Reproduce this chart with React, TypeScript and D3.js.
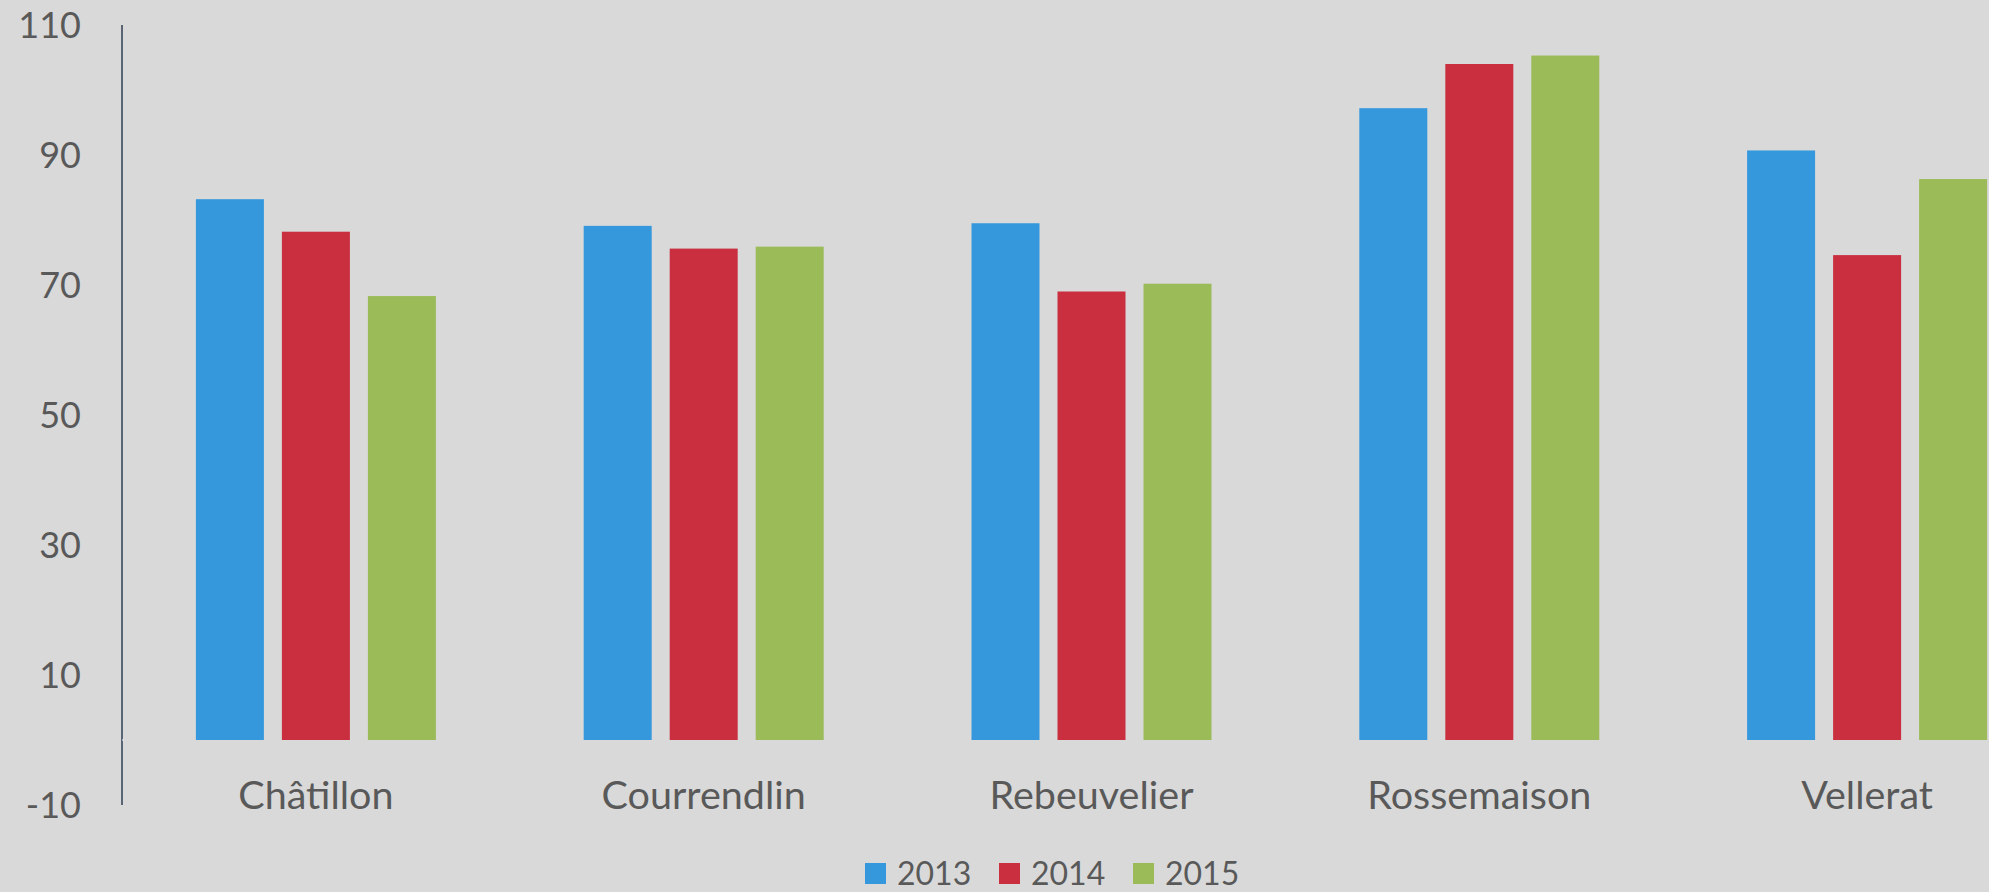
import React from "react";
import * as d3 from "d3";

const categories = ["Châtillon", "Courrendlin", "Rebeuvelier", "Rossemaison", "Vellerat"];
const seriesKeys = ["2013", "2014", "2015"];
const values2013 = [83.2, 79.1, 79.5, 97.2, 90.7];
const values2014 = [78.2, 75.6, 69.0, 104.0, 74.6];
const values2015 = [68.3, 75.9, 70.2, 105.3, 86.3];
const seriesValues = [values2013, values2014, values2015];
const seriesColors = ["#3598DC", "#C92F3F", "#9BBB59"];
const yTicks = [-10, 10, 30, 50, 70, 90, 110];

const W = 1989;
const H = 892;
const FONT = "Lato, 'Open Sans', sans-serif";
const TEXT = "#595959";

export default function App() {
  const axisX = 122;
  const y = d3.scaleLinear().domain([-10, 110]).range([805, 25]);
  const step = 387.8;
  const x0 = d3
    .scaleBand<string>()
    .domain(categories)
    .range([axisX, axisX + step * categories.length])
    .paddingInner(0)
    .paddingOuter(0);
  const groupW = 240;
  const x1 = d3
    .scaleBand<string>()
    .domain(seriesKeys)
    .range([0, groupW])
    .paddingInner(18 / 86)
    .paddingOuter(0);

  const legendX = [865, 999, 1133];

  return (
    <svg
      width={W}
      height={H}
      style={{ position: "absolute", left: 0, top: 0, display: "block" }}
    >
      <rect x={0} y={0} width={W} height={H} fill="#D9D9D9" />
      {categories.map((c, ci) => {
        const center = (x0(c) as number) + x0.bandwidth() / 2;
        const gx = center - groupW / 2;
        return (
          <g key={c}>
            {seriesKeys.map((k, si) => {
              const v = seriesValues[si][ci];
              return (
                <rect
                  key={k}
                  x={gx + (x1(k) as number)}
                  y={y(v)}
                  width={x1.bandwidth()}
                  height={y(0) - y(v)}
                  fill={seriesColors[si]}
                />
              );
            })}
            <text
              x={center}
              y={809}
              textAnchor="middle"
              fontFamily={FONT}
              fontSize={39.5}
              fill={TEXT}
            >
              {c}
            </text>
          </g>
        );
      })}
      <line x1={axisX} x2={axisX} y1={y(110)} y2={y(-10)} stroke="#2E3E52" strokeWidth={1.5} />
      <line x1={axisX} x2={axisX + 2} y1={y(0)} y2={y(0)} stroke="#F2F2F2" strokeWidth={1} />
      {yTicks.map((t) => (
        <text
          key={t}
          x={81}
          y={y(t)}
          dy="0.36em"
          textAnchor="end"
          fontFamily={FONT}
          fontSize={36}
          fill={TEXT}
        >
          {t}
        </text>
      ))}
      {seriesKeys.map((k, i) => (
        <g key={k}>
          <rect x={legendX[i]} y={863} width={21} height={21} fill={seriesColors[i]} />
          <text
            x={legendX[i] + 32}
            y={885}
            fontFamily={FONT}
            fontSize={32}
            fill={TEXT}
          >
            {k}
          </text>
        </g>
      ))}
    </svg>
  );
}
